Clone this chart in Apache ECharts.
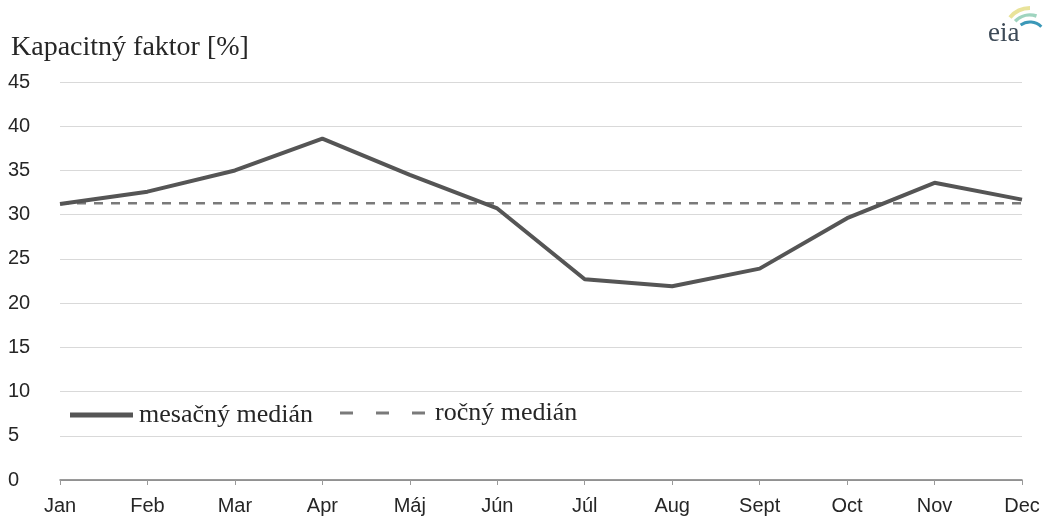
<!DOCTYPE html>
<html>
<head>
<meta charset="utf-8">
<script src="https://cdn.jsdelivr.net/npm/echarts@6/dist/echarts.min.js"></script>
<style>
  html, body { margin: 0; padding: 0; background: #ffffff; }
  #chart { width: 1046px; height: 521px; }
</style>
</head>
<body>
<div id="chart"></div>
<script>
// Monthly capacity factor (median) and the annual median
const months = ['Jan', 'Feb', 'Mar', 'Apr', 'Máj', 'Jún', 'Júl', 'Aug', 'Sept', 'Oct', 'Nov', 'Dec'];
const monthlyMedian = [31.2, 32.6, 35.0, 38.6, 34.5, 30.7, 22.7, 21.9, 23.9, 29.6, 33.6, 31.7];
const annualMedian = 31.3;
const yTicks = { min: 0, max: 45, interval: 5 };

const serif = '"Liberation Serif", "DejaVu Serif", serif';
const sans = '"Liberation Sans", Arial, sans-serif';

const lineColor = '#555555';
const dashColor = '#7a7a7a';

// legend icons: a thick bar for the monthly line, three short dashes for the annual line
const solidIcon = 'rect';
const dashedIcon = 'path://M0,0h13v3h-13z M36,0h13v3h-13z M72,0h13v3h-13z';

const chart = echarts.init(document.getElementById('chart'), null, { renderer: 'canvas' });

chart.setOption({
  backgroundColor: '#ffffff',
  animation: false,
  grid: { left: 60, right: 24, top: 82, bottom: 41, containLabel: false },
  title: {
    text: 'Kapacitný faktor [%]',
    left: 6, top: 29,
    textStyle: { fontFamily: serif, fontSize: 28, fontWeight: 'normal', color: '#262626' }
  },
  legend: [
    {
      data: [{ name: 'mesačný medián', icon: solidIcon, itemStyle: { color: lineColor } }],
      left: 65, top: 397,
      itemWidth: 63, itemHeight: 5, itemGap: 6,
      textStyle: { fontFamily: serif, fontSize: 26, color: '#262626', padding: [0, 0, 0, 1] }
    },
    {
      data: [{ name: 'ročný medián', icon: dashedIcon, itemStyle: { color: dashColor } }],
      left: 335, top: 395,
      itemWidth: 85, itemHeight: 3,
      textStyle: { fontFamily: serif, fontSize: 26, color: '#262626', padding: [0, 0, 0, 5] }
    }
  ],
  xAxis: {
    type: 'category',
    data: months,
    boundaryGap: false,
    axisLine: { lineStyle: { color: '#7a7a7a', width: 1.5 } },
    axisTick: { show: true, length: 5, lineStyle: { color: '#9a9a9a' } },
    axisLabel: { fontFamily: sans, fontSize: 20, color: '#262626', margin: 16 },
    splitLine: { show: false }
  },
  yAxis: {
    type: 'value',
    min: yTicks.min, max: yTicks.max, interval: yTicks.interval,
    axisLine: { show: false },
    axisTick: { show: false },
    axisLabel: { fontFamily: sans, fontSize: 20, color: '#262626', align: 'left', margin: 52 },
    splitLine: { lineStyle: { color: '#d9d9d9', width: 1 } }
  },
  series: [
    {
      name: 'mesačný medián',
      type: 'line',
      data: monthlyMedian,
      symbol: 'none',
      lineStyle: { color: lineColor, width: 4 },
      itemStyle: { color: lineColor },
      z: 3
    },
    {
      name: 'ročný medián',
      type: 'line',
      data: [[months[0], annualMedian], [months[months.length - 1], annualMedian]],
      symbol: 'none',
      lineStyle: { color: dashColor, width: 2.5, type: [9, 8] },
      itemStyle: { color: dashColor },
      z: 2
    }
  ],
  graphic: [
    // eia logo in the top right corner
    {
      type: 'arc',
      shape: { cx: 1030, cy: 34, r: 26, startAngle: Math.PI * 1.22, endAngle: Math.PI * 1.5 },
      style: { stroke: '#e9e39a', lineWidth: 4, fill: null }
    },
    {
      type: 'arc',
      shape: { cx: 1030, cy: 36, r: 21, startAngle: Math.PI * 1.25, endAngle: Math.PI * 1.6 },
      style: { stroke: '#9fd4bf', lineWidth: 3.5, fill: null }
    },
    {
      type: 'arc',
      shape: { cx: 1030, cy: 38, r: 16, startAngle: Math.PI * 1.3, endAngle: Math.PI * 1.75 },
      style: { stroke: '#3b98b8', lineWidth: 3, fill: null }
    },
    {
      type: 'text',
      left: 988, top: 20,
      style: { text: 'eia', font: '27px ' + serif, fill: '#3d4a57' }
    }
  ]
});
</script>
</body>
</html>
